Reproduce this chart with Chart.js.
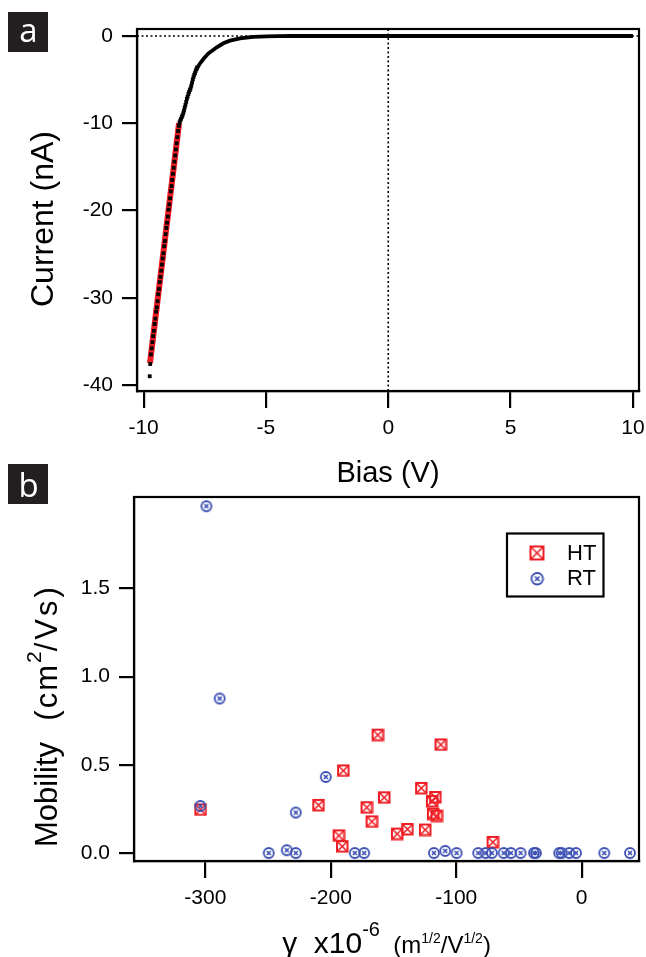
<!DOCTYPE html>
<html><head><meta charset="utf-8">
<script src="https://cdn.jsdelivr.net/npm/chart.js@4"></script>
<style>
html,body{margin:0;padding:0;background:#fff;}
#wrap{position:relative;width:646px;height:957px;background:#fff;}
canvas{position:absolute;left:0;top:0;}
</style>
</head><body>
<div id="wrap"><canvas id="ca" width="646" height="957"></canvas><canvas id="cb" width="646" height="957"></canvas></div>
<script>
// ---------- Panel a data ----------
const biasSteep = [-9.75,-9.73,-9.70,-9.67,-9.64,-9.61,-9.58,-9.55,-9.52,-9.49,-9.46,-9.43,-9.40,-9.37,-9.34,-9.31,-9.28,-9.25,-9.22,-9.19,-9.16,-9.13,-9.10,-9.07,-9.04,-9.01,-8.98,-8.95,-8.92,-8.89,-8.86,-8.83,-8.80,-8.77,-8.74,-8.71,-8.68,-8.65,-8.62,-8.59,-8.56,-8.53,-8.50,-8.47,-8.44,-8.41,-8.38,-8.35,-8.32,-8.29,-8.26,-8.23,-8.20,-8.17,-8.14,-8.11,-8.08,-8.05,-8.02,-7.99,-7.96,-7.93,-7.90,-7.87,-7.84,-7.81];
const currentSteep = [-39.0,-37.6,-36.5,-35.8,-35.1,-34.4,-33.8,-33.0,-32.4,-31.6,-31.1,-30.4,-29.6,-29.0,-28.2,-27.6,-26.9,-26.2,-25.5,-24.9,-24.1,-23.5,-22.7,-22.0,-21.4,-20.7,-19.9,-19.3,-18.6,-17.8,-17.2,-16.5,-15.8,-15.1,-14.4,-13.7,-13.0,-12.3,-11.6,-10.9,-10.3,-9.9,-9.7,-9.5,-9.3,-9.1,-8.85,-8.55,-8.2,-7.9,-7.55,-7.2,-6.95,-6.65,-6.4,-6.2,-6.0,-5.7,-5.35,-5.0,-4.7,-4.45,-4.25,-4.0,-3.8,-3.6];
const biasFlat = [-7.84,-7.69,-7.53,-7.35,-7.20,-7.01,-6.74,-6.47,-6.06,-5.52,-4.97,-4.50,-4.00,10.0];
const currentFlat = [-3.8,-3.13,-2.56,-1.99,-1.70,-1.30,-0.84,-0.54,-0.27,-0.11,-0.05,-0.02,0.0,0.0];
const fitBias = [-9.74,-8.55];
const fitCurrent = [-37.5,-10.0];
const biasTicks = [-10,-5,0,5,10];
const currentTicks = [0,-10,-20,-30,-40];
const biasRange = [-10.27,10.25];
const currentRange = [-40.69,0.8];

// ---------- Panel b data ----------
const htGamma = [-304,-210,-193.8,-191.1,-190.2,-171.5,-167.5,-162.7,-157.6,-147.3,-139.1,-128,-125,-119.4,-118.6,-116.8,-115.7,-112.5,-71];
const htMobility = [0.25,0.275,0.103,0.042,0.47,0.262,0.182,0.672,0.318,0.113,0.139,0.371,0.136,0.297,0.226,0.32,0.215,0.617,0.066];
const rtGamma = [-299.2,-288.6,-304,-204,-227.9,-249.5,-235.1,-227.9,-180.9,-173.4,-117.8,-108.8,-99.7,-82.5,-76.6,-71.6,-62.2,-56.4,-48.7,-38.1,-36.5,-17.9,-16.0,-9.9,-4.5,18.0,38.5];
const rtMobility = [1.963,0.876,0.269,0.433,0.232,0.003,0.019,0.003,0.003,0.003,0.003,0.015,0.003,0.003,0.003,0.003,0.003,0.003,0.003,0.003,0.003,0.003,0.003,0.003,0.003,0.003,0.003];
const gammaTicks = [-300,-200,-100,0];
const mobilityTicks = [0,0.5,1.0,1.5];
const gammaRange = [-356.9,45.7];
const mobilityRange = [-0.042,2.015];
const seriesNames = ['HT','RT'];

// ---------- helpers ----------
const FONT = "'Liberation Sans', Arial, sans-serif";
const RED = 'rgb(238,30,36)';
const BLUE = 'rgb(58,78,178)';
const pts = (xs, ys) => xs.map((x,i)=>({x:x, y:ys[i]}));

function makeHT(s, lw){
  const c = document.createElement('canvas'); const n = s+4; c.width=n; c.height=n;
  const g = c.getContext('2d'); g.strokeStyle=RED; g.lineWidth=lw;
  const a=2, b=2+s;
  g.strokeRect(a,a,s,s);
  g.lineWidth=lw*0.8; g.beginPath(); g.moveTo(a+0.5,a+0.5); g.lineTo(b-0.5,b-0.5); g.moveTo(b-0.5,a+0.5); g.lineTo(a+0.5,b-0.5); g.stroke();
  return c;
}
function makeRT(d, lw){
  const c = document.createElement('canvas'); const n = d+4; c.width=n; c.height=n;
  const g = c.getContext('2d'); const m=n/2; g.strokeStyle=BLUE; g.lineWidth=lw;
  g.beginPath(); g.arc(m,m,d/2,0,Math.PI*2); g.stroke();
  const k=d*0.2; g.lineWidth=lw*0.9; g.beginPath(); g.moveTo(m-k,m-k); g.lineTo(m+k,m+k); g.moveTo(m+k,m-k); g.lineTo(m-k,m+k); g.stroke();
  return c;
}
function drawRuns(ctx, runs, x, y){
  let cx = x;
  for(const r of runs){ ctx.font = r.size+'px '+(r.family||FONT); ctx.letterSpacing = (r.ls||0)+'px'; ctx.fillText(r.t, cx, y+(r.dy||0)); cx += ctx.measureText(r.t).width; }
  ctx.letterSpacing = '0px';
}
function runsWidth(ctx, runs){ let w=0; for(const r of runs){ ctx.font=r.size+'px '+(r.family||FONT); ctx.letterSpacing=(r.ls||0)+'px'; w+=ctx.measureText(r.t).width; } ctx.letterSpacing='0px'; return w; }
function panelLabel(ctx, letter, x, y, baseY){
  ctx.save(); ctx.fillStyle='#231f20'; ctx.fillRect(x,y,40,40);
  ctx.fillStyle='#fff'; ctx.font="33px 'Open Sans', sans-serif"; ctx.textAlign='center'; ctx.textBaseline='alphabetic';
  ctx.fillText(letter, x+20.5, baseY); ctx.restore();
}
function frame(chart){
  const ca = chart.chartArea, ctx = chart.ctx;
  ctx.save(); ctx.strokeStyle='#000'; ctx.lineWidth=2.2;
  ctx.strokeRect(ca.left, ca.top, ca.right-ca.left, ca.bottom-ca.top); ctx.restore();
}
function axisCommon(tickVals, fmt, range, isX, size, pad){
  return {
    type:'linear', min:range[0], max:range[1],
    afterBuildTicks: s => { s.ticks = tickVals.map(v=>({value:v})); },
    afterFit: s => { if(isX){ s.height=size; s.paddingLeft=0; s.paddingRight=0; } else { s.width=size; s.paddingTop=0; s.paddingBottom=0; } },
    grid:{display:true, drawOnChartArea:false, drawTicks:true, tickLength:isX?17:15, color:'#000', lineWidth:2.2},
    border:{display:true, color:'#000', width:2.2},
    ticks:{color:'#000', font:{family:FONT, size:21}, padding:pad, maxRotation:0, autoSkip:false, callback: fmt}
  };
}

// ---------- Chart a ----------
const pluginA = {
  id:'decorA',
  afterDraw(chart){
    const ctx = chart.ctx, ca = chart.chartArea;
    frame(chart);
    panelLabel(ctx,'a',8,12,42);
    ctx.save(); ctx.fillStyle='#000';
    ctx.font = '32px '+FONT; ctx.textAlign='center'; ctx.textBaseline='alphabetic';
    ctx.translate(53, 219); ctx.rotate(-Math.PI/2); ctx.fillText('Current (nA)', 0, 0);
    ctx.restore();
    ctx.save(); ctx.fillStyle='#000'; ctx.font='29px '+FONT; ctx.textAlign='center'; ctx.textBaseline='alphabetic';
    ctx.fillText('Bias (V)', (ca.left+ca.right)/2, 482); ctx.restore();
  }
};
new Chart(document.getElementById('ca'), {
  type:'scatter',
  data:{datasets:[
    {label:'data', data:pts(biasSteep,currentSteep), showLine:false, pointStyle:'rect', pointRadius:2.7, backgroundColor:'#000', borderColor:'#000', borderWidth:0, order:1},
    {label:'data2', data:pts(biasFlat,currentFlat), showLine:true, pointRadius:0, borderColor:'#000', borderWidth:3.8, order:1, clip:false},
    {label:'fit', data:pts(fitBias,fitCurrent), showLine:true, pointRadius:0, borderColor:'rgb(238,28,36)', borderWidth:6, order:2},
    {label:'h0', data:pts(biasRange,[0,0]), showLine:true, pointRadius:0, borderColor:'#000', borderWidth:1.6, borderDash:[2,2.5], order:3},
    {label:'v0', data:pts([0,0],currentRange), showLine:true, pointRadius:0, borderColor:'#000', borderWidth:1.6, borderDash:[2,2.5], order:3}
  ]},
  options:{
    responsive:false, animation:false, events:[], devicePixelRatio:1,
    layout:{padding:{top:29,right:7,bottom:466,left:0}},
    plugins:{legend:{display:false}, tooltip:{enabled:false}},
    scales:{
      x: axisCommon(biasTicks, v=>String(v), biasRange, true, 100, 8),
      y: axisCommon(currentTicks, v=>String(v), currentRange, false, 137, 9)
    }
  },
  plugins:[pluginA]
});

// ---------- Chart b ----------
const htImg = makeHT(10.5, 2), rtImg = makeRT(10, 1.8);
const htLeg = makeHT(13, 2), rtLeg = makeRT(11.5, 1.8);
const pluginB = {
  id:'decorB',
  afterDraw(chart){
    const ctx = chart.ctx, ca = chart.chartArea;
    frame(chart);
    panelLabel(ctx,'b',8,464,497);
    ctx.save(); ctx.strokeStyle='#000'; ctx.lineWidth=2.2; ctx.strokeRect(507,533.5,96.5,63);
    ctx.drawImage(htLeg, 537-htLeg.width/2, 553-htLeg.height/2);
    ctx.drawImage(rtLeg, 537-rtLeg.width/2, 578.5-rtLeg.height/2);
    ctx.fillStyle='#000'; ctx.font='22px '+FONT; ctx.textAlign='left'; ctx.textBaseline='middle';
    ctx.fillText(seriesNames[0], 567, 553.5); ctx.fillText(seriesNames[1], 567, 579);
    ctx.restore();
    ctx.save(); ctx.fillStyle='#000'; ctx.textBaseline='alphabetic'; ctx.textAlign='left';
    ctx.translate(57, 847); ctx.rotate(-Math.PI/2);
    drawRuns(ctx, [{t:'Mobility',size:31},{t:'  (cm',size:31,ls:2},{t:'2',size:21,dy:-16},{t:'/Vs)',size:31,ls:3}], 0, 0);
    ctx.restore();
    ctx.save(); ctx.fillStyle='#000'; ctx.textBaseline='alphabetic'; ctx.textAlign='left';
    const runs = [{t:'\u03b3',size:30},{t:'  x10',size:30},{t:'-6',size:20,dy:-17},{t:'  (m',size:24},{t:'1/2',size:14,dy:-10},{t:'/V',size:24},{t:'1/2',size:14,dy:-10},{t:')',size:24}];
    const w = runsWidth(ctx, runs);
    drawRuns(ctx, runs, (ca.left+ca.right)/2 - w/2, 953);
    ctx.restore();
  }
};
new Chart(document.getElementById('cb'), {
  type:'scatter',
  data:{datasets:[
    {label:seriesNames[0], data:pts(htGamma,htMobility), pointStyle:htImg, pointRadius:5, order:2},
    {label:seriesNames[1], data:pts(rtGamma,rtMobility), pointStyle:rtImg, pointRadius:5, order:1}
  ]},
  options:{
    responsive:false, animation:false, events:[], devicePixelRatio:1,
    layout:{padding:{top:497,right:7,bottom:0,left:0}},
    plugins:{legend:{display:false}, tooltip:{enabled:false}},
    scales:{
      x: axisCommon(gammaTicks, v=>String(v), gammaRange, true, 96, 8),
      y: axisCommon(mobilityTicks, v=>v.toFixed(1), mobilityRange, false, 134, 9)
    }
  },
  plugins:[pluginB]
});
</script>
</body></html>
